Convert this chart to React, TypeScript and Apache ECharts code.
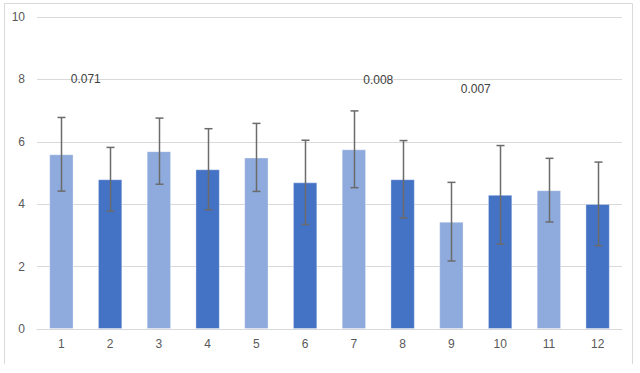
import React, { useEffect, useRef } from "react";
import * as echarts from "echarts";

const categories = ["1", "2", "3", "4", "5", "6", "7", "8", "9", "10", "11", "12"];
const means = [5.6, 4.8, 5.7, 5.12, 5.5, 4.7, 5.76, 4.8, 3.44, 4.3, 4.45, 4.01];
const errors = [1.18, 1.02, 1.06, 1.3, 1.09, 1.35, 1.23, 1.24, 1.26, 1.58, 1.02, 1.34];
const yTicks = { min: 0, max: 10, interval: 2 };
// annotations: [from category index, to category index, y value, text]
const annotations: [number, number, number, string][] = [
  [0, 1, 8.0, "0.071"],
  [6, 7, 7.97, "0.008"],
  [8, 9, 7.68, "0.007"],
];

const LIGHT = "#8FAADC";
const DARK = "#4472C4";

export default function App() {
  const ref = useRef<HTMLDivElement>(null);
  useEffect(() => {
    if (!ref.current) return;
    const chart = echarts.init(ref.current, undefined, { renderer: "svg" });
    const font = "'Liberation Sans', Arial, sans-serif";
    chart.setOption({
      animation: false,
      backgroundColor: "#fff",
      grid: { left: 37, right: 18, top: 17, bottom: 44 },
      xAxis: {
        type: "category",
        data: categories,
        axisLine: { show: true, lineStyle: { color: "#D9D9D9" } },
        axisTick: { show: false },
        axisLabel: { color: "#595959", fontSize: 12, fontFamily: font, margin: 9 },
      },
      yAxis: {
        type: "value",
        min: yTicks.min,
        max: yTicks.max,
        interval: yTicks.interval,
        axisLine: { show: false },
        axisTick: { show: false },
        splitLine: { lineStyle: { color: "#D9D9D9", width: 1 } },
        axisLabel: { color: "#595959", fontSize: 12, fontFamily: font, margin: 12 },
      },
      graphic: [
        {
          type: "polyline",
          shape: { points: [[4.5, 364], [4.5, 3.5], [632.5, 3.5], [632.5, 364]] },
          style: { stroke: "#D9D9D9", fill: "none", lineWidth: 1 },
          silent: true,
        },
      ],
      series: [
        {
          type: "bar",
          data: means,
          barWidth: "50%",
          itemStyle: {
            color: (p: any) => (p.dataIndex % 2 === 0 ? LIGHT : DARK),
            borderColor: "rgba(255,255,255,0.35)",
            borderWidth: 1,
          },
          z: 2,
        },
        {
          type: "custom",
          data: means.map((m, i) => [i, m - errors[i], m + errors[i]]),
          z: 3,
          renderItem: (params: any, api: any) => {
            const x = api.value(0);
            const lo = api.coord([x, api.value(1)]);
            const hi = api.coord([x, api.value(2)]);
            const cx = Math.round(lo[0]) + 0.5;
            const hw = 4;
            const style = { stroke: "#6B6B6B", lineWidth: 1.5 };
            return {
              type: "group",
              children: [
                { type: "line", shape: { x1: cx, y1: hi[1], x2: cx, y2: lo[1] }, style },
                { type: "line", shape: { x1: cx - hw, y1: hi[1], x2: cx + hw, y2: hi[1] }, style },
                { type: "line", shape: { x1: cx - hw, y1: lo[1], x2: cx + hw, y2: lo[1] }, style },
              ],
            };
          },
        },
        {
          type: "custom",
          data: annotations,
          z: 4,
          renderItem: (params: any, api: any) => {
            const a = api.coord([api.value(0), api.value(2)]);
            const b = api.coord([api.value(1), api.value(2)]);
            const ann = annotations[params.dataIndex];
            return {
              type: "text",
              x: (a[0] + b[0]) / 2,
              y: a[1],
              style: {
                text: ann[3],
                fill: "#404040",
                font: `12px ${font}`,
                align: "center",
                verticalAlign: "middle",
              },
            };
          },
        },
      ],
    });
    return () => chart.dispose();
  }, []);
  return (
    <div
      ref={ref}
      style={{ position: "fixed", left: 0, top: 0, width: 640, height: 373 }}
    />
  );
}
